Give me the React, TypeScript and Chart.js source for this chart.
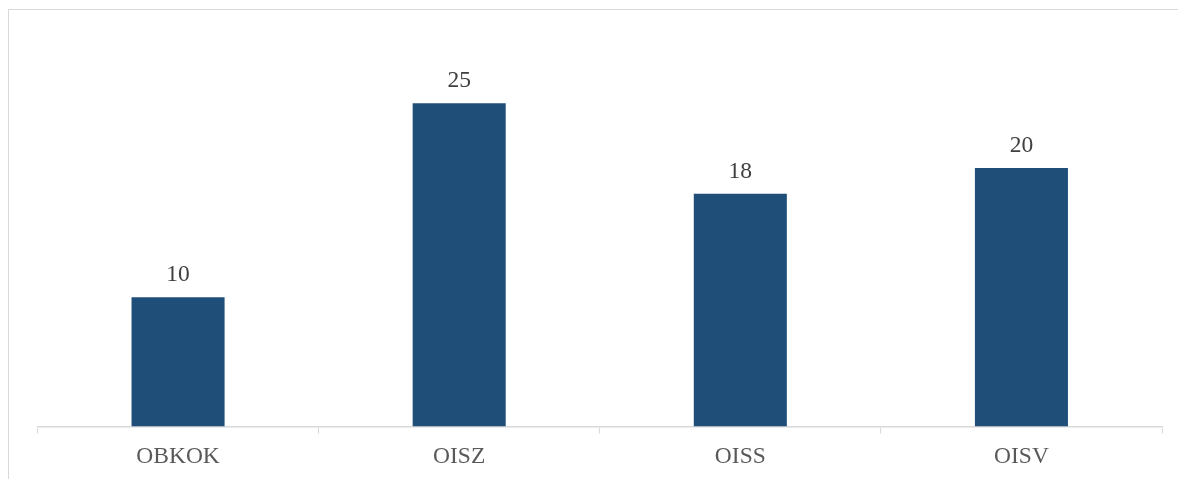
import React, { useEffect, useRef } from "react";
import { Chart, registerables } from "chart.js";

Chart.register(...registerables);

const categories = ["OBKOK", "OISZ", "OISS", "OISV"];
const values = [10, 25, 18, 20];
const yMax = 30;

const valueLabelPlugin = {
  id: "valueLabels",
  afterDatasetsDraw(chart: any) {
    const ctx = chart.ctx;
    const meta = chart.getDatasetMeta(0);
    ctx.save();
    ctx.font = "23.5px 'Liberation Serif'";
    ctx.fillStyle = "#404040";
    ctx.textAlign = "center";
    ctx.textBaseline = "alphabetic";
    meta.data.forEach((bar: any, i: number) => {
      ctx.fillText(String(values[i]), bar.x, bar.y - 16);
    });
    ctx.restore();
  },
};

export default function App() {
  const ref = useRef<HTMLCanvasElement>(null);
  useEffect(() => {
    if (!ref.current) return;
    const chart = new Chart(ref.current, {
      type: "bar",
      data: {
        labels: categories,
        datasets: [
          {
            data: values,
            backgroundColor: "#1f4e79",
            barPercentage: 0.331,
            categoryPercentage: 1,
          },
        ],
      },
      options: {
        animation: false,
        responsive: false,
        maintainAspectRatio: false,
        layout: { padding: { left: 37.5, right: 16, top: 38.6, bottom: 0 } },
        plugins: { legend: { display: false }, tooltip: { enabled: false } },
        scales: {
          x: {
            afterFit: (s: any) => {
              s.height = 52.5;
            },
            grid: {
              display: true,
              drawOnChartArea: false,
              drawTicks: true,
              tickLength: 7,
              color: "#d9d9d9",
              offset: true,
            },
            border: { display: true, color: "#d9d9d9", width: 1.5 },
            ticks: {
              color: "#595959",
              padding: 9.5,
              font: { family: "'Liberation Serif'", size: 23.5 },
            },
          },
          y: {
            display: false,
            min: 0,
            max: yMax,
          },
        },
      },
      plugins: [valueLabelPlugin],
    });
    return () => chart.destroy();
  }, []);
  return (
    <div
      style={{
        position: "absolute",
        left: 0,
        top: 0,
        width: 1178,
        height: 479,
        overflow: "hidden",
        background: "#fff",
      }}
    >
      <div
        style={{
          position: "absolute",
          left: 8,
          top: 9,
          width: 1170,
          height: 470,
          borderLeft: "1.5px solid #d9d9d9",
          borderTop: "1.5px solid #d9d9d9",
          boxSizing: "border-box",
        }}
      />
      <canvas
        ref={ref}
        width={1178}
        height={479}
        style={{ position: "absolute", left: 0, top: 0, width: 1178, height: 479 }}
      />
    </div>
  );
}
